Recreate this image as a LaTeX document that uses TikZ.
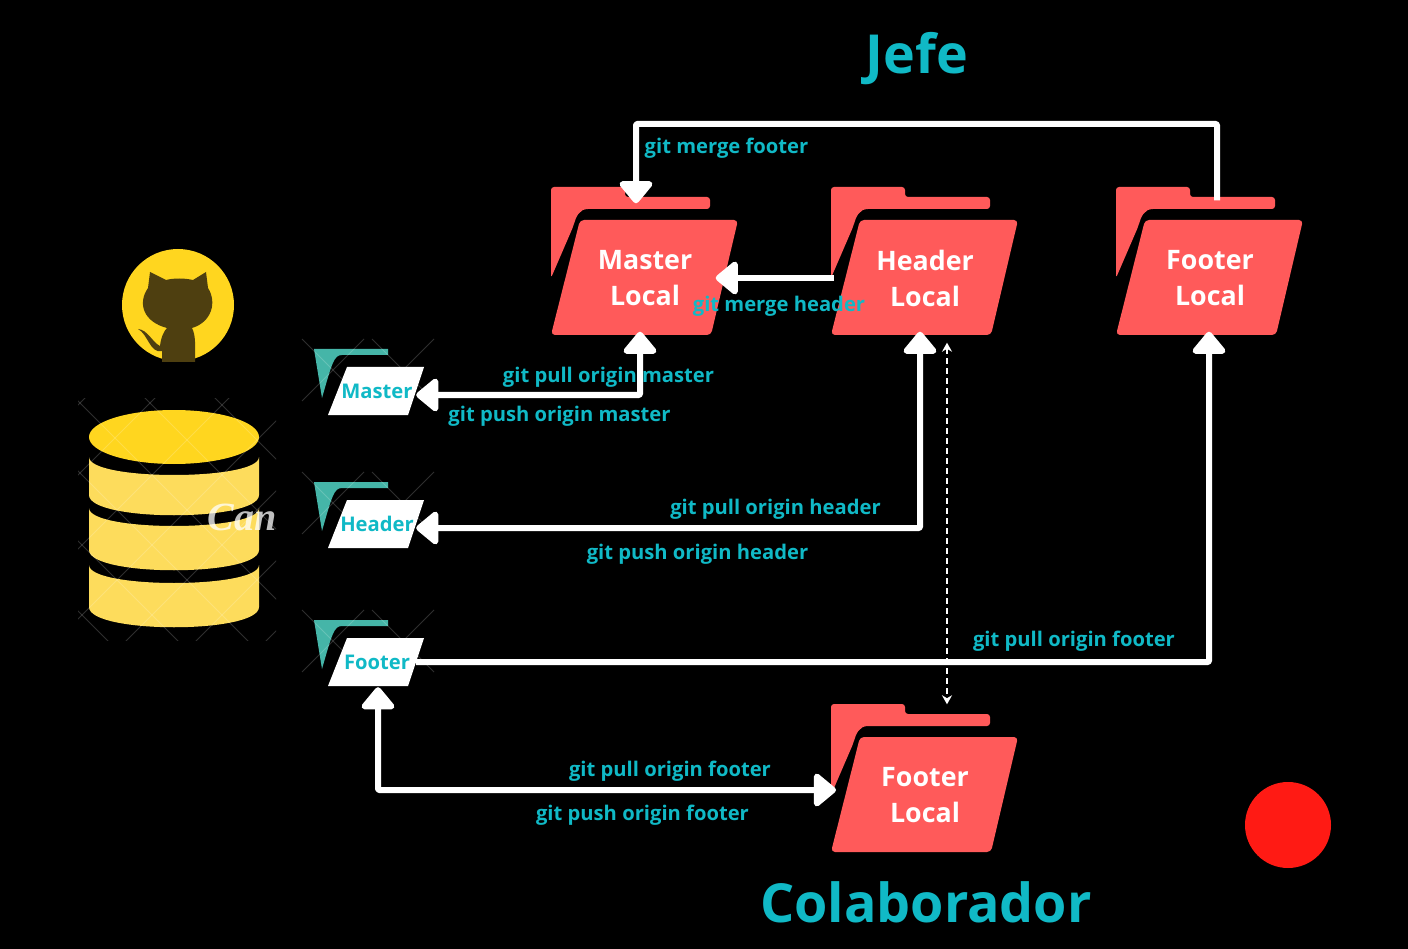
\documentclass[tikz,border=0pt]{standalone}
\usepackage{fontspec}
\setmainfont{Open Sans}
\newfontfamily\canvafont{Liberation Serif}
\usetikzlibrary{positioning,arrows.meta}
\definecolor{tealtext}{HTML}{10B9C6}
\definecolor{folderred}{HTML}{FF5A5A}
\definecolor{branchteal}{HTML}{45B5A8}
\definecolor{dbtop}{HTML}{FFD61F}
\definecolor{dbband}{HTML}{FDDC5C}
\definecolor{catbrown}{HTML}{4E3F10}
\definecolor{dotred}{HTML}{FF1A14}
\tikzset{
	flow/.style={draw=white, line width=6pt, line join=round, rounded corners=1pt},
	bigtip/.tip={Triangle[round,width=38pt,length=24pt]},
	smalltip/.tip={Stealth[width=10pt,length=9pt]},
	cmdlabel/.style={text=tealtext, font=\bfseries\fontsize{20.2}{24}\selectfont, inner sep=0pt},
	titlelabel/.style={text=tealtext, font=\bfseries\fontsize{53.8}{60}\selectfont, inner sep=0pt},
	folderlabel/.style={text=white, font=\bfseries\fontsize{26.8}{36}\selectfont, align=center, inner sep=0pt, minimum width=187pt, minimum height=115pt},
	branchlabel/.style={text=tealtext, font=\bfseries\fontsize{20.2}{24}\selectfont, inner sep=0pt, minimum width=78pt, minimum height=50pt},
	gridline/.style={white, opacity=0.18, line width=0.8pt},
}
% #1 node name, #2 x, #3 y, #4 text
\newcommand{\drawFolder}[4]{
	\begin{scope}[shift={(#2,#3)}]
		\fill[folderred, rounded corners=3pt] (0,91) -- (0,0) -- (74,0) -- (74,10) -- (159,10) -- (159,22) -- (40,22) .. controls (28,22) and (25,30) .. (22,40) -- cycle;
		\fill[folderred, rounded corners=4pt] (29,33) -- (187,33) -- (160,148) -- (0,148) -- cycle;
		\node[folderlabel] (#1) at (94,91) {#4};
	\end{scope}
}
\newcommand{\drawBranch}[4]{
	\begin{scope}[shift={(#2,#3)}]
		\fill[branchteal] (0,0) -- (74,0) -- (74,6) -- (28,6) .. controls (20,6) and (18,14) .. (8,49) -- cycle;
		\fill[white] (33,18) -- (110,18) -- (94,66) -- (14,66) -- cycle;
		\foreach \d in {0,70}{
			\draw[gridline] (\d-12,-10) -- (\d+50,52);
			\draw[gridline] (\d+50,-10) -- (\d-12,52);
		}
		\node[branchlabel] (#1) at (63,42) {#4};
	\end{scope}
}
\newcommand{\drawBand}[2]{
	\fill[dbband] (89,#1) .. controls (89,#1+24) and (259,#1+24) .. (259,#1) -- (259,#2) .. controls (259,#2+27) and (89,#2+27) .. (89,#2) -- cycle;
}

\begin{document}
\begin{tikzpicture}[x=1pt, y=-1pt]

	\fill[black] (0,0) rectangle (1408,949);
	\useasboundingbox (0,0) rectangle (1408,949);

	% octocat
	\fill[dbtop] (178,305) circle (56);
	\fill[catbrown] (150,272) -- (166,280) .. controls (174,278) and (184,278) .. (193,280) -- (206,272) -- (208,288)
		.. controls (217,302) and (212,322) .. (192,328) .. controls (196,336) and (195,345) .. (195,362)
		-- (162,362) -- (162,351) .. controls (150,354) and (148,334) .. (138,329)
		.. controls (148,330) and (152,342) .. (160,346) .. controls (161,337) and (164,331) .. (167,328)
		.. controls (144,322) and (137,304) .. (148,288) -- cycle;

	% database
	\drawBand{457}{495}
	\drawBand{508}{550}
	\drawBand{565}{607}
	\fill[dbtop] (174,437) ellipse (85 and 27);
	\begin{scope}
		\clip (78,398) rectangle (276,640);
		\foreach \c in {113,183,253,323,393,463,533}
			\draw[gridline] (60,60+\c) -- (300,300+\c);
		\foreach \c in {483,553,627,697,767,837,907}
			\draw[gridline] (60,\c-60) -- (300,\c-300);
	\end{scope}
	\node[text=white, opacity=0.75, font=\canvafont\bfseries\itshape\fontsize{40}{40}\selectfont, inner sep=0pt] (canva) at (242,517) {Can};

	% folders
	\drawFolder{masterLocal}{551}{187}{Master\\Local}
	\drawFolder{headerLocal}{831}{187}{Header\\Local}
	\drawFolder{footerLocal}{1116}{187}{Footer\\Local}
	\drawFolder{footerColab}{831}{704}{Footer\\Local}
	\drawBranch{masterBranch}{314}{349}{Master}
	\drawBranch{headerBranch}{314}{482}{Header}
	\drawBranch{footerBranch}{314}{620}{Footer}

	\fill[dotred] (1288,825) circle (43);

	\coordinate (topLine) at (900,124);

	% connectors
	\draw[flow, -bigtip] ([xshift=7pt,yshift=20pt]footerLocal.north) |- (topLine) -| ([xshift=-9pt,yshift=17pt]masterLocal.north);
	\draw[flow, -bigtip] ([xshift=-91pt]headerLocal.center) -- ([xshift=-23pt]masterLocal.east);
	\draw[flow, bigtip-bigtip] ([xshift=-5pt,yshift=4pt]masterLocal.south) |- ([yshift=-4pt]masterBranch.east);
	\draw[flow, bigtip-bigtip] ([xshift=-5pt,yshift=4pt]headerLocal.south) |- ([yshift=-4pt]headerBranch.east);
	\draw[flow, bigtip-] ([xshift=-1pt,yshift=4pt]footerLocal.south) |- (footerBranch.east);
	\draw[flow, bigtip-bigtip] ([xshift=1pt]footerBranch.south) |- ([xshift=-89pt,yshift=5pt]footerColab.center);
	\draw[white, line width=2.2pt, dash pattern=on 6pt off 4pt, smalltip-smalltip] ([xshift=22pt,yshift=-7pt]headerLocal.south) -- ([xshift=22pt,yshift=33pt]footerColab.north);

	% labels
	\node[titlelabel] (jefe) at (917,59) {Jefe};
	\node[titlelabel] (colaborador) at (926,902) {Colaborador};
	\node[cmdlabel] (mergeFooter) at (726.5,148) {git merge footer};
	\node[cmdlabel] (mergeHeader) at (779,306) {git merge header};
	\node[cmdlabel] (pullMaster) at (608.5,377) {git pull origin master};
	\node[cmdlabel] (pushMaster) at (559.5,416) {git push origin master};
	\node[cmdlabel] (pullHeader) at (775.5,509) {git pull origin header};
	\node[cmdlabel] (pushHeader) at (697.5,554) {git push origin header};
	\node[cmdlabel] (pullFooter) at (1074,641) {git pull origin footer};
	\node[cmdlabel] (pullColab) at (670,771) {git pull origin footer};
	\node[cmdlabel] (pushColab) at (642.5,815) {git push origin footer};

\end{tikzpicture}
\end{document}
